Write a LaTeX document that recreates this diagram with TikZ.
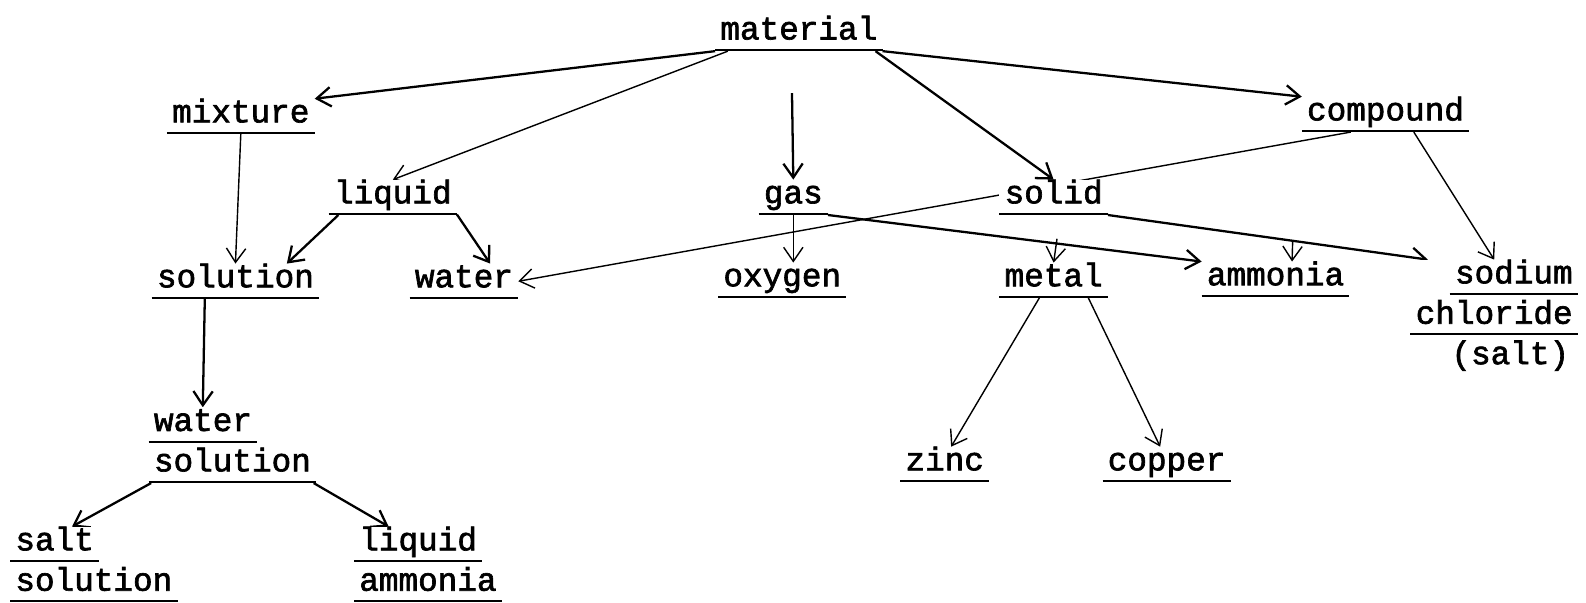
\documentclass[tikz,border=0pt]{standalone}
\usepackage{fontspec}
\newfontfamily\typewr[FakeBold=2]{Liberation Mono}
\usetikzlibrary{arrows.meta,backgrounds}
\newcommand\uw[1]{\setbox0\hbox{\kern3pt#1\vphantom{lp}\kern3pt}\vtop{\copy0\kern1.6pt\hrule height 1.2pt width \wd0}}

\tikzset{concept_word/.style={inner sep=0pt, outer sep=0pt, fill=white, anchor=base west, align=left, font=\typewr\fontsize{18.6}{23}\selectfont}}
\tikzset{link_arrow/.style={-{Straight Barb[length=8pt,width=11pt]}, line width=1.3pt}}
\tikzset{faint_arrow/.style={link_arrow, line width=0.8pt}}

\begin{document}
\begin{tikzpicture}[x=0.02023cm, y=-0.02023cm]
    \useasboundingbox (0,0) rectangle (1568,596);
    \node[concept_word] (material) at (707,39) {\uw{material}};
    \node[concept_word] (mixture) at (165,121) {\uw{mixture}};
    \node[concept_word] (compound) at (1287,119) {\uw{compound}};
    \node[concept_word] (liquid) at (325,201) {\uw{liquid}};
    \node[concept_word] (gas) at (750,201) {\uw{gas}};
    \node[concept_word] (solid) at (988,201) {\uw{solid}};
    \node[concept_word] (solution) at (150,284) {\uw{solution}};
    \node[concept_word] (water) at (405,284) {\uw{water}};
    \node[concept_word] (oxygen) at (710,283) {\uw{oxygen}};
    \node[concept_word] (metal) at (988,283) {\uw{metal}};
    \node[concept_word] (ammonia) at (1188,282) {\uw{ammonia}};
    \node[concept_word, anchor=base east, align=right] (salt) at (1560,360) {\uw{sodium}\\\uw{chloride}\\(salt)\kern5pt};
    \node[concept_word] (watersol) at (147,466) {\uw{water}\\\uw{solution}};
    \node[concept_word] (zinc) at (890,465) {\uw{zinc}};
    \node[concept_word] (copper) at (1090,465) {\uw{copper}};
    \node[concept_word] (saltsol) at (10,584) {\uw{salt}\\\uw{solution}};
    \node[concept_word] (liqammonia) at (350,584) {\uw{liquid}\\\uw{ammonia}};
    \coordinate (gastop) at (783,92);
    \coordinate (metalmark) at (1045,236);
    \coordinate (ammoniamark) at (1278,238);
    \begin{pgfonlayer}{background}
    \draw[link_arrow] (material.south west) -- (mixture.north east);
    \draw[faint_arrow] (material.-166) -- (liquid.north);
    \draw[link_arrow] (gastop) -- (gas.north);
    \draw[link_arrow] (material.-13) -- (solid.north);
    \draw[link_arrow] (material.south east) -- (compound.north west);
    \draw[faint_arrow] (mixture.south) -- (solution.north);
    \draw[link_arrow] (liquid.-162) -- (solution.19);
    \draw[link_arrow] (liquid.-15) -- (water.34);
    \draw[faint_arrow] (gas.south) -- (gas.south |- oxygen.north);
    \draw[link_arrow] (gas.south east) -- (ammonia.north west);
    \draw[faint_arrow] (compound.-153) -- (water.east);
    \draw[link_arrow] (solid.south east) -- (salt.140);
    \draw[faint_arrow] (compound.-32) -- (salt.north);
    \draw[faint_arrow] (metalmark) -- (metal.north);
    \draw[faint_arrow] (ammoniamark) -- (ammonia.47);
    \draw[faint_arrow] (metal.-129) -- (zinc.70);
    \draw[faint_arrow] (metal.-27) -- (copper.110);
    \draw[link_arrow] (solution.-150) -- (watersol.128);
    \draw[link_arrow] (watersol.-155) -- (saltsol.120);
    \draw[link_arrow] (watersol.-25) -- (liqammonia.136);
    \end{pgfonlayer}
\end{tikzpicture}
\end{document}
